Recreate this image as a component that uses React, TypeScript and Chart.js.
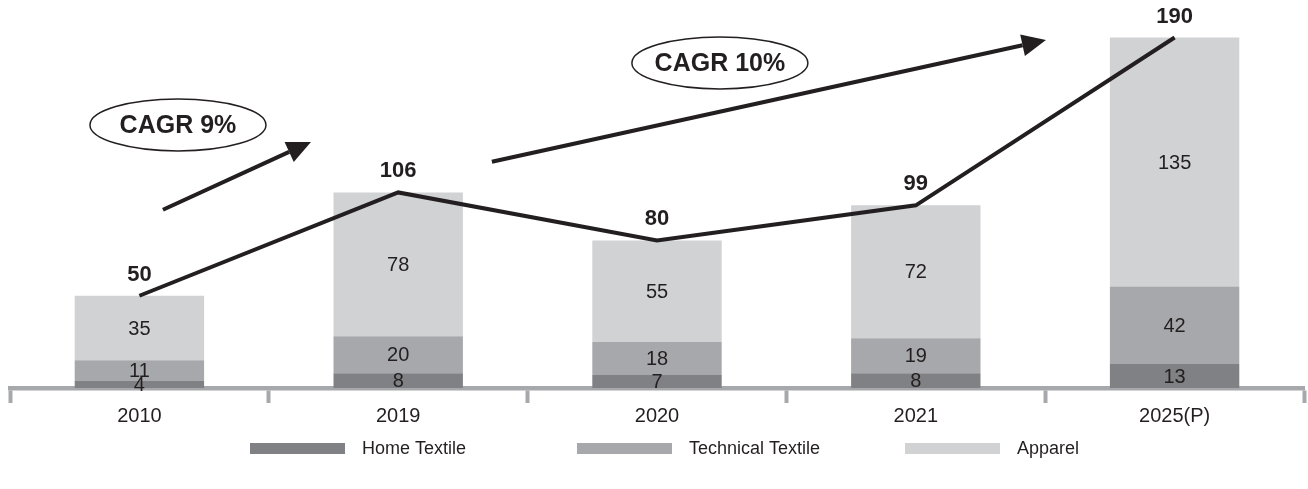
import React, { useEffect, useRef } from 'react';
import { Chart, registerables } from 'chart.js';

Chart.register(...registerables);

// ---- data ----
const categories = ['2010', '2019', '2020', '2021', '2025(P)'];
const homeTextile = [4, 8, 7, 8, 13];
const technicalTextile = [11, 20, 18, 19, 42];
const apparel = [35, 78, 55, 72, 135];
const totals = [50, 106, 80, 99, 190];
const seriesLabels = ['Home Textile', 'Technical Textile', 'Apparel'];
const cagrLabels = ['CAGR 9%', 'CAGR 10%'];

// ---- styling / layout (not data) ----
const seriesColors = ['#808184', '#a7a8ab', '#d1d2d4'];
const TEXT = '#231f20';
const FONT = "'Liberation Sans', Arial, Helvetica, sans-serif";
// annotation anchors expressed in scale coordinates: [category index, value]
const arrowAnchors = [
  { from: [0.091, 96.6], to: [0.663, 133.4] },
  { from: [1.362, 122.6], to: [3.503, 188.6] },
];
const bubbleAnchors = [
  [0.149, 142.6],
  [2.243, 176.2],
];

const labelsPlugin = {
  id: 'valueLabels',
  afterDatasetsDraw(chart: any) {
    const { ctx } = chart;
    ctx.save();
    ctx.textAlign = 'center';
    ctx.textBaseline = 'middle';
    chart.data.datasets.forEach((ds: any, di: number) => {
      const meta = chart.getDatasetMeta(di);
      if (ds.type === 'line') {
        ctx.font = `bold 22px ${FONT}`;
        ctx.fillStyle = TEXT;
        meta.data.forEach((el: any, i: number) => {
          ctx.fillText(String(ds.data[i]), el.x, el.y - 21);
        });
      } else {
        ctx.font = `20px ${FONT}`;
        ctx.fillStyle = TEXT;
        meta.data.forEach((el: any, i: number) => {
          const yc = (el.y + el.base) / 2;
          ctx.fillText(String(ds.data[i]), el.x, yc + 1);
        });
      }
    });
    ctx.restore();
  },
};

const annotationPlugin = {
  id: 'cagrAnnotations',
  afterDraw(chart: any) {
    const { ctx } = chart;
    const xs = chart.scales.x;
    const ys = chart.scales.y;
    const px = (p: number[]) => [xs.getPixelForValue(p[0]), ys.getPixelForValue(p[1])];
    ctx.save();
    ctx.strokeStyle = TEXT;
    ctx.fillStyle = TEXT;
    arrowAnchors.forEach((a) => {
      const [x1, y1] = px(a.from);
      const [x2, y2] = px(a.to);
      const ang = Math.atan2(y2 - y1, x2 - x1);
      const headLen = 24;
      const headHalf = 11;
      const bx = x2 - headLen * Math.cos(ang);
      const by = y2 - headLen * Math.sin(ang);
      ctx.lineWidth = 4;
      ctx.beginPath();
      ctx.moveTo(x1, y1);
      ctx.lineTo(bx, by);
      ctx.stroke();
      ctx.beginPath();
      ctx.moveTo(x2, y2);
      ctx.lineTo(bx + headHalf * Math.sin(ang), by - headHalf * Math.cos(ang));
      ctx.lineTo(bx - headHalf * Math.sin(ang), by + headHalf * Math.cos(ang));
      ctx.closePath();
      ctx.fill();
    });
    bubbleAnchors.forEach((b, i) => {
      const [cx, cy] = px(b);
      ctx.lineWidth = 1.5;
      ctx.fillStyle = '#ffffff';
      ctx.beginPath();
      ctx.ellipse(cx, cy, 88, 26, 0, 0, Math.PI * 2);
      ctx.fill();
      ctx.stroke();
      ctx.fillStyle = TEXT;
      ctx.font = `bold 25px ${FONT}`;
      ctx.textAlign = 'center';
      ctx.textBaseline = 'middle';
      ctx.fillText(cagrLabels[i], cx, cy + 1);
    });
    ctx.restore();
  },
};

const legendPlugin = {
  id: 'customLegend',
  afterDraw(chart: any) {
    const { ctx } = chart;
    const starts = [250, 577, 905];
    ctx.save();
    ctx.font = `18px ${FONT}`;
    ctx.textAlign = 'left';
    ctx.textBaseline = 'middle';
    seriesLabels.forEach((lab, i) => {
      const x = starts[i];
      ctx.fillStyle = seriesColors[i];
      ctx.fillRect(x, 443, 95, 11);
      ctx.fillStyle = TEXT;
      ctx.fillText(lab, x + 112, 449);
    });
    ctx.restore();
  },
};

export default function App() {
  const ref = useRef<HTMLCanvasElement>(null);
  useEffect(() => {
    if (!ref.current) return;
    const chart = new Chart(ref.current, {
      type: 'bar',
      data: {
        labels: categories,
        datasets: [
          { label: seriesLabels[0], data: homeTextile, backgroundColor: seriesColors[0], stack: 'seg', order: 1 },
          { label: seriesLabels[1], data: technicalTextile, backgroundColor: seriesColors[1], stack: 'seg', order: 1 },
          { label: seriesLabels[2], data: apparel, backgroundColor: seriesColors[2], stack: 'seg', order: 1 },
          {
            type: 'line',
            label: 'Total',
            data: totals,
            borderColor: TEXT,
            borderWidth: 4,
            pointRadius: 0,
            pointHoverRadius: 0,
            tension: 0,
            fill: false,
            stack: 'total',
            order: 0,
          } as any,
        ],
      },
      options: {
        animation: false,
        responsive: true,
        maintainAspectRatio: false,
        events: [],
        layout: { padding: { left: 10, right: 4, top: 19, bottom: 60 } },
        plugins: { legend: { display: false }, tooltip: { enabled: false } },
        datasets: { bar: { categoryPercentage: 1, barPercentage: 0.5 } },
        scales: {
          x: {
            stacked: true,
            offset: true,
            grid: {
              display: true,
              drawOnChartArea: false,
              drawTicks: true,
              tickLength: 15,
              tickWidth: 4,
              tickColor: '#a7a8ab',
              offset: true,
            },
            border: { display: true, color: '#a7a8ab', width: 4.5 },
            ticks: { color: TEXT, font: { family: FONT, size: 20 }, padding: 1, maxRotation: 0 },
          },
          y: { stacked: true, display: false, min: 0, max: 200 },
        },
      },
      plugins: [labelsPlugin, annotationPlugin, legendPlugin],
    });
    return () => chart.destroy();
  }, []);
  return (
    <div style={{ position: 'fixed', left: 0, top: 0, width: 1308, height: 489, background: '#ffffff' }}>
      <canvas ref={ref} />
    </div>
  );
}
